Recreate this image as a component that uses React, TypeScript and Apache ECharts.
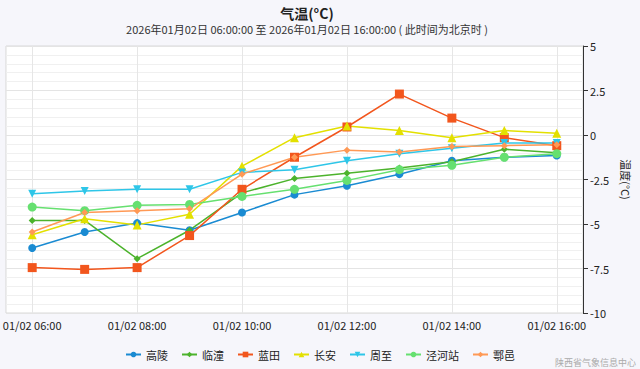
import React, { useEffect, useRef } from "react";
import * as echarts from "echarts";

const categories = [
  "01/02 06:00", "01/02 07:00", "01/02 08:00", "01/02 09:00", "01/02 10:00", "01/02 11:00",
  "01/02 12:00", "01/02 13:00", "01/02 14:00", "01/02 15:00", "01/02 16:00",
];
const gaoling = [-6.35, -5.45, -4.95, -5.35, -4.35, -3.35, -2.85, -2.2, -1.45, -1.25, -1.15];
const lintong = [-4.8, -4.8, -6.95, -5.35, -3.25, -2.45, -2.15, -1.85, -1.5, -0.8, -1.0];
const lantian = [-7.45, -7.55, -7.45, -5.65, -3.05, -1.25, 0.45, 2.3, 0.95, -0.15, -0.6];
const changan = [-5.6, -4.7, -5.05, -4.45, -1.75, -0.15, 0.5, 0.25, -0.15, 0.25, 0.1];
const zhouzhi = [-3.3, -3.15, -3.05, -3.05, -2.1, -1.95, -1.45, -1.05, -0.75, -0.45, -0.45];
const jinghe = [-4.05, -4.25, -3.95, -3.9, -3.45, -3.05, -2.55, -1.95, -1.7, -1.25, -1.05];
const huyi = [-5.45, -4.35, -4.25, -4.15, -2.2, -1.25, -0.85, -0.95, -0.65, -0.6, -0.55];

const seriesNames = ["高陵", "临潼", "蓝田", "长安", "周至", "泾河站", "鄠邑"];
const seriesData = [gaoling, lintong, lantian, changan, zhouzhi, jinghe, huyi];
const colors = ["#1a8bd2", "#4cb32c", "#f2561d", "#e3e000", "#2ec6e8", "#66e070", "#ff9955"];
const symbols = ["circle", "diamond", "rect", "triangle", "path://M0,0 L10,0 L5,10 Z", "circle", "diamond"];
const symbolSizes = [8, 7, 9, 9, 8, 9, 7];

const title = "气温(°C)";
const subtitle = "2026年01月02日 06:00:00 至 2026年01月02日 16:00:00 ( 此时间为北京时 )";
const yName = "温度(°C)";
const watermark = "陕西省气象信息中心";

const FONT = "'Noto Sans CJK SC', 'Noto Sans', sans-serif";

export default function App() {
  const ref = useRef<HTMLDivElement>(null);
  useEffect(() => {
    if (!ref.current) return;
    const chart = echarts.init(ref.current, null, { renderer: "svg" });
    chart.setOption({
      animation: false,
      backgroundColor: "#f6f6fb",
      color: colors,
      textStyle: { fontFamily: FONT },
      title: {
        text: title,
        subtext: subtitle,
        left: 302,
        textAlign: "center",
        top: 1,
        itemGap: 4,
        textStyle: { fontSize: 14, fontWeight: "bold", color: "#222", fontFamily: FONT },
        subtextStyle: { fontSize: 11, color: "#333", fontFamily: FONT },
      },
      grid: {
        left: 5,
        right: 55,
        top: 46,
        bottom: 56,
        show: true,
        backgroundColor: "#ffffff",
        borderColor: "#d8d8d8",
        borderWidth: 1,
      },
      legend: {
        top: 344,
        left: "center",
        itemWidth: 15,
        itemHeight: 7,
        itemGap: 13,
        textStyle: { fontSize: 11, color: "#222", fontFamily: FONT },
        data: seriesNames,
      },
      xAxis: {
        type: "category",
        data: categories,
        boundaryGap: true,
        axisLine: { show: false },
        axisTick: { show: false },
        axisLabel: { interval: 1, fontSize: 11, color: "#222", margin: 6 },
        splitLine: { show: true, interval: 1, alignWithLabel: true, lineStyle: { color: "#e6e6e6", width: 1 } },
      },
      yAxis: {
        type: "value",
        position: "right",
        min: -10,
        max: 5,
        interval: 2.5,
        name: yName,
        nameLocation: "middle",
        nameRotate: -90,
        nameGap: 38,
        nameTextStyle: { fontSize: 11, color: "#222", fontFamily: FONT },
        axisLine: { show: true, lineStyle: { color: "#333", width: 1 } },
        axisTick: { show: true, length: 5, lineStyle: { color: "#333" } },
        axisLabel: {
          fontSize: 11,
          color: "#222",
          margin: 7,
          formatter: (v: number) => String(v),
        },
        splitLine: { show: true, lineStyle: { color: "#e4e4e4", width: 1 } },
        minorTick: { show: false, splitNumber: 5 },
        minorSplitLine: { show: true, lineStyle: { color: "#f0f0f0", width: 1 } },
      },
      series: seriesNames.map((name, i) => ({
        name,
        type: "line",
        data: seriesData[i],
        symbol: symbols[i],
        symbolSize: symbolSizes[i],
        showAllSymbol: true,
        lineStyle: { width: 1.5, color: colors[i] },
        itemStyle: { color: colors[i] },
      })),
      graphic: [
        {
          type: "text",
          right: 4,
          top: 358,
          style: { text: watermark, fontSize: 9, fill: "#aaa", fontFamily: FONT },
        },
      ],
    });
    return () => chart.dispose();
  }, []);
  return <div ref={ref} style={{ width: 640, height: 369, position: "absolute", left: 0, top: 0 }} />;
}
